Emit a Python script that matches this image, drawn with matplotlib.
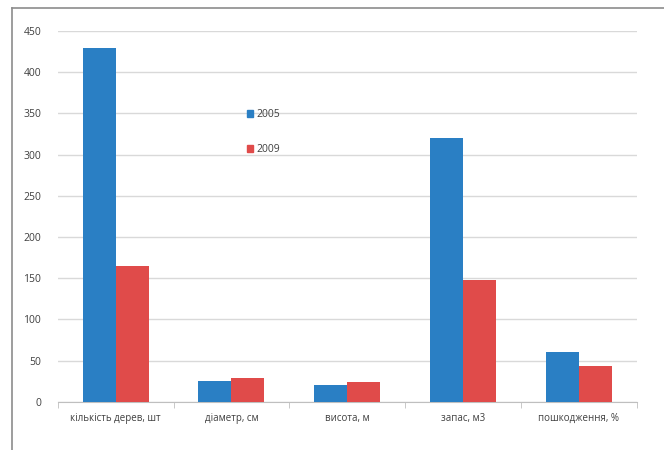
import matplotlib.pyplot as plt
import numpy as np
from matplotlib.lines import Line2D
from matplotlib.patches import Patch

categories = ['кількість дерев, шт', 'діаметр, см', 'висота, м', 'запас, м3', 'пошкодження, %']
v2005 = [430, 25, 20, 320, 60]
v2009 = [165, 29, 24, 148, 44]
years = ['2005', '2009']

blue = '#2a7fc4'
red = '#e04b4a'

plt.rcParams['font.family'] = ['Open Sans', 'DejaVu Sans']

fig = plt.figure(figsize=(6.64, 4.5), dpi=100)
ax = fig.add_axes([0.087, 0.107, 0.872, 0.824])

x = np.arange(len(categories))
w = 0.285
ax.bar(x - w / 2, v2005, width=w, color=blue, zorder=3)
ax.bar(x + w / 2, v2009, width=w, color=red, zorder=3)

ax.set_xlim(-0.5, len(categories) - 0.5)
ax.set_ylim(0, 450)
ax.set_yticks(np.arange(0, 451, 50))
ax.grid(axis='y', color='#d9d9d9', linewidth=1, zorder=0)
ax.set_xticks(x)
ax.set_xticklabels(categories, fontsize=7, color='#404040')
ax.tick_params(axis='x', length=0, pad=8)
ax.set_xticks(np.arange(-0.5, len(categories), 1), minor=True)
ax.tick_params(axis='x', which='minor', length=4, color='#bfbfbf')
ax.tick_params(axis='y', length=0, labelsize=7.5, labelcolor='#404040', pad=12)
for s in ['top', 'right', 'left']:
    ax.spines[s].set_visible(False)
ax.spines['bottom'].set_color('#bfbfbf')

handles = [Patch(color=blue), Patch(color=red)]
ax.legend(handles, years, loc='upper left', bbox_to_anchor=(0.31, 0.815),
          frameon=False, fontsize=7.5, labelspacing=2.3, handlelength=0.6,
          handleheight=0.6, handletextpad=0.3, labelcolor='#404040')

# chart border
fig.add_artist(Line2D([12 / 664, 1], [1 - 8 / 450, 1 - 8 / 450], color='#8c8c8c', lw=1.2))
fig.add_artist(Line2D([12 / 664, 12 / 664], [0, 1 - 8 / 450], color='#8c8c8c', lw=1.2))

fig.savefig('out.png', dpi=100)
